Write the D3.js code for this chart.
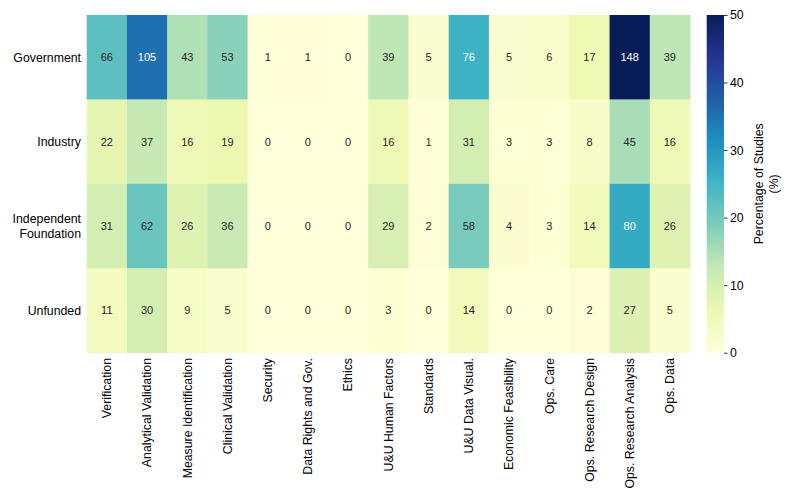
<!DOCTYPE html>
<html><head><meta charset="utf-8">
<script src="https://cdn.jsdelivr.net/npm/d3@7"></script>
<style>body{margin:0;background:#fff}text{font-family:"Liberation Sans",Arial,Helvetica,sans-serif}</style>
</head><body><svg id="c" width="800" height="501"></svg>
<script>
const categories = ["Verification","Analytical Validation","Measure Identification","Clinical Validation","Security","Data Rights and Gov.","Ethics","U&U Human Factors","Standards","U&U Data Visual.","Economic Feasibility","Ops. Care","Ops. Research Design","Ops. Research Analysis","Ops. Data"];
const fundingSources = ["Government","Industry","Independent Foundation","Unfunded"];
const government  = [66,105,43,53,1,1,0,39,5,76,5,6,17,148,39];
const industry    = [22,37,16,19,0,0,0,16,1,31,3,3,8,45,16];
const independent = [31,62,26,36,0,0,0,29,2,58,4,3,14,80,26];
const unfunded    = [11,30,9,5,0,0,0,3,0,14,0,0,2,27,5];
const totalStudies = 296;
const colorTicks = [0,10,20,30,40,50];
const ylgnbu = ["#ffffd9","#edf8b1","#c7e9b4","#7fcdbb","#41b6c4","#1d91c0","#225ea8","#253494","#081d58"];

const rows = [government, industry, independent, unfunded];
const svg = d3.select("#c");
const L = 86.7, R = 690, T = 15, B = 352.7;
const x = d3.scaleBand().domain(categories).range([L, R]);
const y = d3.scaleBand().domain(fundingSources).range([T, B]);
const color = d3.scaleLinear().domain(d3.range(9).map(i => i * 50 / 8)).range(ylgnbu).clamp(true);

function lum(c){
  const r = d3.rgb(c);
  const f = v => { v /= 255; return v <= 0.03928 ? v / 12.92 : Math.pow((v + 0.055) / 1.055, 2.4); };
  return 0.2126 * f(r.r) + 0.7152 * f(r.g) + 0.0722 * f(r.b);
}

const cells = [];
rows.forEach((vals, i) => vals.forEach((v, j) => cells.push({row: fundingSources[i], col: categories[j], v, p: v / totalStudies * 100})));

const g = svg.append("g");
g.selectAll("rect").data(cells).join("rect")
  .attr("x", d => x(d.col)).attr("y", d => y(d.row))
  .attr("width", x.bandwidth() + 0.5).attr("height", y.bandwidth() + 0.5)
  .attr("fill", d => color(d.p));
g.selectAll("text").data(cells).join("text")
  .attr("x", d => x(d.col) + x.bandwidth() / 2)
  .attr("y", d => y(d.row) + y.bandwidth() / 2)
  .attr("dy", "0.36em").attr("text-anchor", "middle")
  .attr("font-size", "11px")
  .attr("fill", d => lum(color(d.p)) > 0.408 ? "#262626" : "#ffffff")
  .text(d => d.v);

// Y labels
const yl = svg.append("g");
fundingSources.forEach(s => {
  const words = s === "Independent Foundation" ? ["Independent", "Foundation"] : [s];
  const cy = y(s) + y.bandwidth() / 2;
  const t = yl.append("text").attr("text-anchor", "end").attr("font-size", "12.3px").attr("fill", "#000");
  words.forEach((w, k) => {
    t.append("tspan").attr("x", 81).attr("y", cy + (k - (words.length - 1) / 2) * 15).attr("dy", "0.35em").text(w);
  });
});

// X labels
svg.append("g").selectAll("text").data(categories).join("text")
  .attr("transform", d => `translate(${x(d) + x.bandwidth() / 2},358) rotate(-90)`)
  .attr("text-anchor", "end").attr("dy", "0.35em")
  .attr("font-size", "12.3px").attr("fill", "#000")
  .text(d => d);

// Colorbar
const cbX = 706.7, cbW = 17.3;
const cy = d3.scaleLinear().domain([0, 50]).range([B, T]);
const defs = svg.append("defs");
const grad = defs.append("linearGradient").attr("id", "cbg").attr("x1", 0).attr("y1", 1).attr("x2", 0).attr("y2", 0);
ylgnbu.forEach((c, i) => grad.append("stop").attr("offset", i / 8).attr("stop-color", c));
svg.append("rect").attr("x", cbX).attr("y", T).attr("width", cbW).attr("height", B - T).attr("fill", "url(#cbg)");
const ax = svg.append("g").attr("transform", `translate(${cbX + cbW},0)`)
  .call(d3.axisRight(cy).tickValues(colorTicks).tickSize(3.5).tickPadding(2.5));
ax.select(".domain").remove();
ax.selectAll("text").attr("font-size", "12.3px").attr("fill", "#000").style("font-family", '"Liberation Sans",Arial,sans-serif');
ax.selectAll("line").attr("stroke", "#000").attr("stroke-width", 0.8);
const lab = svg.append("text").attr("transform", `translate(770,${(T + B) / 2}) rotate(-90)`)
  .attr("text-anchor", "middle").attr("font-size", "12.3px").attr("fill", "#000");
lab.append("tspan").attr("x", 0).attr("y", -7).text("Percentage of Studies");
lab.append("tspan").attr("x", 0).attr("y", 8).text("(%)");
</script></body></html>
